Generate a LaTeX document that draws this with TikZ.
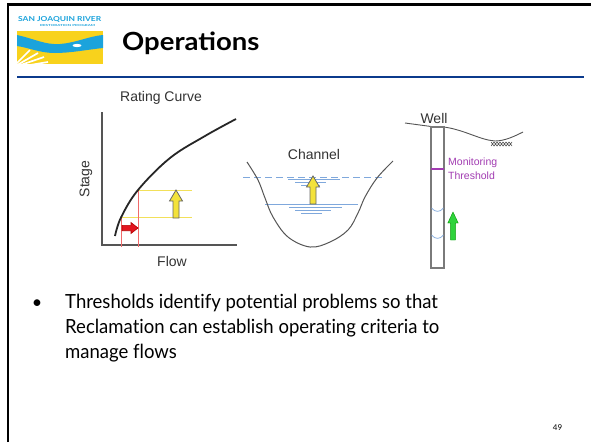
\documentclass[tikz,border=0pt]{standalone}
\usepackage{fontspec}
\usepackage{graphicx}
\setmainfont{Lato}[Ligatures=NoCommon]
\newfontfamily\bodyfont{Lato}[Ligatures=NoCommon, FakeStretch=0.95]
\newfontfamily\titlefont{Lato}[FakeStretch=1.1]
\newfontfamily\chartfont{Liberation Sans}
\definecolor{rulecol}{HTML}{0B3A8C}
\definecolor{logoblue}{HTML}{1BA3DC}
\definecolor{logoyellow}{HTML}{F8D21C}
\definecolor{charttext}{HTML}{333333}
\definecolor{axisgray}{HTML}{555555}
\definecolor{guideyellow}{HTML}{F2E05A}
\definecolor{guidered}{HTML}{F06A6A}
\definecolor{arrowyellow}{HTML}{F3E23A}
\definecolor{arrowred}{HTML}{E3141E}
\definecolor{arrowgreen}{HTML}{2FD33C}
\definecolor{waterblue}{HTML}{7FA8DC}
\definecolor{wellgray}{HTML}{7A7A7A}
\definecolor{threshold}{HTML}{A23CB2}
\begin{document}
\begin{tikzpicture}[x=1pt,y=-1pt,
  charttitle/.style={font=\chartfont\fontsize{14}{16}\selectfont, text=charttext, inner sep=0pt},
  bodyline/.style={anchor=base west, inner sep=0pt, font=\bodyfont\fontsize{19.5}{25}\selectfont},
  axis/.style={draw=axisgray, line width=1.1pt},
  guide/.style={line width=0.8pt},
  water/.style={draw=waterblue, line width=1pt},
  ripple/.style={draw=waterblue, line width=0.7pt},
  yellowarrow/.style={fill=arrowyellow, draw=black!60, line width=0.8pt},
  upblock/.pic={\path[pic actions] (-3,0) -- (-3,-17) -- (-6.5,-17) -- (0,-28) -- (6.5,-17) -- (3,-17) -- (3,0) -- cycle;},
  rightblock/.pic={\path[pic actions] (0,-2.7) -- (9,-2.7) -- (9,-5.5) -- (16,0) -- (9,5.5) -- (9,2.7) -- (0,2.7) -- cycle;}
]
\useasboundingbox (0,0) rectangle (591,442);
\fill[white] (0,0) rectangle (591,442);

% slide frame
\draw[line width=2.6pt, black] (7.8,442) -- (7.8,4.5) -- (591,4.5);
\draw[line width=2.2pt, rulecol] (17,77) -- (584,77);

% logo
\fill[white] (17,16) rectangle (103,31);
\node[inner sep=0pt, anchor=north west, text=logoblue] (logotitle) at (18,16.5)
  {\resizebox{83pt}{5pt}{\bfseries SAN JOAQUIN RIVER}};
\node[inner sep=0pt, anchor=north west, text=logoblue] (logosub) at (40,24)
  {\resizebox{55pt}{2pt}{\bfseries RESTORATION PROGRAM}};
\fill[logoyellow] (17,31) rectangle (103,64);
\begin{scope}
  \clip (17,31) rectangle (103,64);
  % field rows fanning out from the lower left corner
  \foreach \ex/\ey in {30/50, 38/53, 44/57, 48/62} {
    \draw[white, line width=1.7pt] (12,68) -- (\ex,\ey);
  }
  \fill[logoblue] (17,35) .. controls (35,39) and (45,45) .. (60,44)
    .. controls (75,43) and (90,36) .. (103,35) -- (103,48)
    .. controls (85,50) and (70,53) .. (55,53)
    .. controls (40,53) and (30,48) .. (17,46) -- cycle;
  \fill[white] (77,45.5) ellipse (4.5 and 1.6);
\end{scope}

% title
\node[anchor=base west, inner sep=0pt, font=\titlefont\fontsize{25}{30}\bfseries\selectfont] (title) at (122,50) {Operations};

% rating curve panel
\node[charttitle] (rctitle) at (161,98) {Rating Curve};
\coordinate (origin) at (102,245);
\draw[axis] (102,112) -- (origin) -- (237,245);
\node[charttitle, rotate=90] (stage) at (86,179) {Stage};
\node[charttitle] (flow) at (172,261) {Flow};
\draw[guide, guideyellow] (121,217.5) -- (192,217.5);
\draw[guide, guideyellow] (138,190) -- (192,190);
\draw[guide, guidered] (121,217.5) -- (121,247);
\draw[guide, guidered] (138,190) -- (138,247);
\draw[line width=1.8pt, black!85] plot[smooth, tension=0.6] coordinates
  {(115,236) (121,217.5) (138,190) (170,158) (205,136) (236,119)};
\pic[yellowarrow] at (176,218) {upblock};
\pic[fill=arrowred, draw=red!70!black, line width=0.6pt] at (122,228) {rightblock};

% channel panel
\node[charttitle] (chtitle) at (314,154) {Channel};
\draw[water, dash pattern=on 7pt off 4pt] (243,177) -- (382,177);
\draw[ripple] (288,179.5) -- (340,179.5) (295,182.5) -- (326,182.5) (301,185.5) -- (320,185.5);
\draw[water] (265,204) -- (358,204);
\draw[ripple] (289,207) -- (342,207) (295,210) -- (331,210) (301,213) -- (322,213);
\draw[line width=1pt, axisgray] plot[smooth, tension=0.6] coordinates
  {(247,162) (258,180) (265,198) (273,217) (288,237) (310,247) (330,242) (348,230) (358,213) (365,197) (377,178) (393,161)};
\pic[yellowarrow] at (313,204) {upblock};

% well panel
\node[charttitle] (welltitle) at (434,118) {Well};
\draw[line width=0.9pt, axisgray] (405,123) -- (431,126.5);
\draw[line width=0.9pt, axisgray] (444,127) .. controls (465,130) and (480,140) .. (495,141)
  .. controls (505,141) and (515,136) .. (523,132);
\draw[line width=0.6pt, axisgray] (491,142) -- (494,146) -- (497,142) -- (500,146) -- (503,142) -- (506,146) -- (509,142) -- (512,146)
  (491,146) -- (494,142) -- (497,146) -- (500,142) -- (503,146) -- (506,142) -- (509,146) -- (512,142);
\draw[line width=1.1pt, wellgray] (431,127) rectangle (444,268);
\draw[line width=2pt, threshold] (431,169) -- (444,169);
\node[anchor=west, align=left, inner sep=0pt, text=threshold,
  font=\chartfont\fontsize{10.5}{14}\selectfont] (thrlabel) at (448,169) {Monitoring\\Threshold};
\draw[ripple] (431.5,208) .. controls (435,212.5) and (440,212.5) .. (443.5,208);
\draw[ripple] (431.5,235) .. controls (435,239.5) and (440,239.5) .. (443.5,235);
\pic[fill=arrowgreen, draw=green!60!black, line width=0.4pt, xscale=0.8] at (453,240) {upblock};

% bullet text
\node[anchor=base, inner sep=0pt, font=\fontsize{18}{20}\selectfont] (bullet) at (37,308) {\textbullet};
\node[bodyline] (body1) at (65,308) {Thresholds identify potential problems so that};
\node[bodyline] (body2) at (65,333) {Reclamation can establish operating criteria to};
\node[bodyline] (body3) at (65,358) {manage flows};

% page number
\node[anchor=base, inner sep=0pt, font=\fontsize{8}{9}\selectfont] (pagenum) at (557.5,430) {49};
\end{tikzpicture}
\end{document}
